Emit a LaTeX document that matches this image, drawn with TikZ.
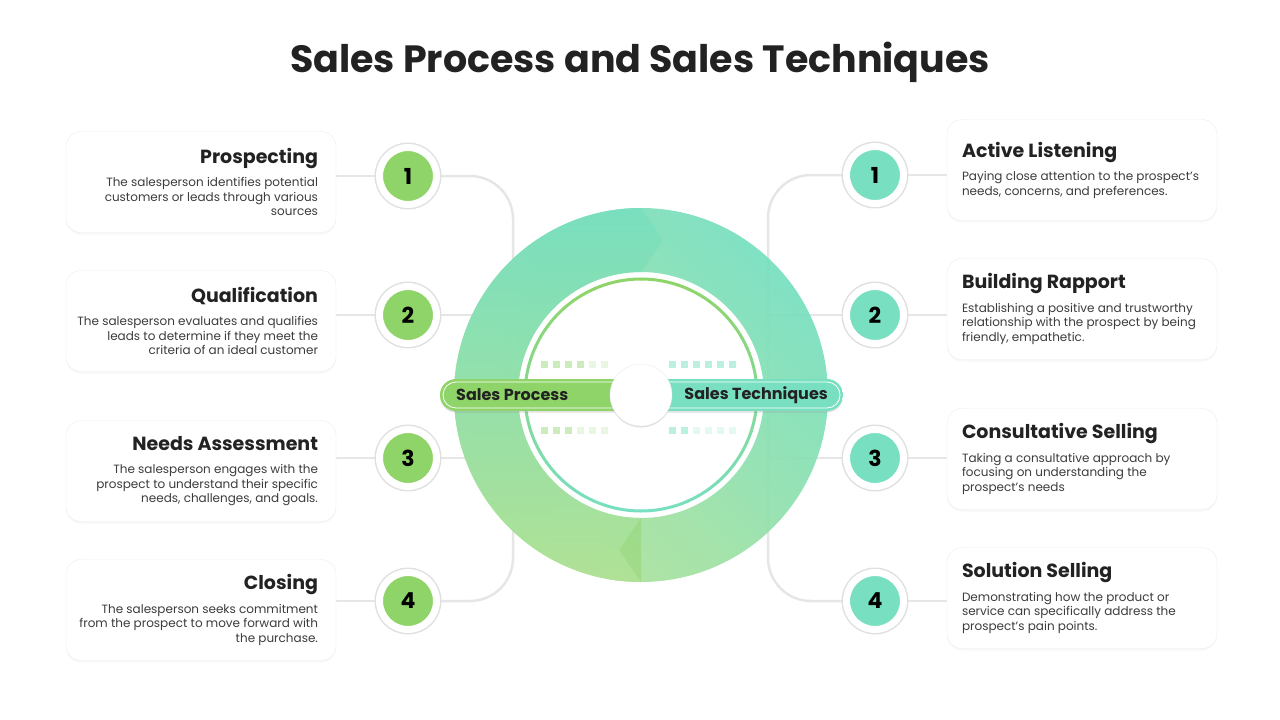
\documentclass[tikz,border=0pt]{standalone}
\usepackage{fontspec}
\setmainfont{Poppins}
\usetikzlibrary{shadows,backgrounds}

\definecolor{pgreen}{HTML}{8FD468}
\definecolor{pteal}{HTML}{78DFC0}
\definecolor{ink}{HTML}{222222}
\definecolor{bodytext}{HTML}{3C3C3C}
\definecolor{linegray}{HTML}{E6E6E6}

\newcommand{\cardhead}{\fontsize{19}{23}\selectfont\bfseries\color{ink}}
\newcommand{\cardbody}{\fontsize{12}{14.5}\selectfont}

\tikzset{
  card/.style={draw=black!7, fill=white, rounded corners=15pt,
    minimum width=270pt, minimum height=101pt,
    drop shadow={opacity=0.06, shadow xshift=0pt, shadow yshift=-2pt}},
  lefttext/.style={anchor=east, align=right, font=\cardbody, text=bodytext, inner sep=0pt},
  righttext/.style={anchor=west, align=left, font=\cardbody, text=bodytext, inner sep=0pt},
  num/.style={circle, minimum size=57pt, fill=#1, draw=white, line width=7pt,
    preaction={draw=black!12, line width=10pt},
    font=\fontsize{22}{22}\selectfont\bfseries, text=black},
  link/.style={draw=linegray, line width=2.5pt},
  tag/.style={font=\fontsize{16}{16}\selectfont\bfseries, text=ink, inner sep=0pt},
}

\begin{document}
\begin{tikzpicture}[x=1pt, y=-1pt]
\useasboundingbox (0,0) rectangle (1280,720);

\node[font=\fontsize{38}{44}\selectfont\bfseries, text=ink] (title) at (640,62)
  {Sales Process and Sales Techniques};

\coordinate (hubc) at (641,395);
\coordinate (lspine) at (513,395);
\coordinate (rspine) at (768,395);

% ring: right half, then left half with the two notches
\shade[even odd rule, opacity=0.94, top color=pteal, middle color=pgreen!72!white,
  bottom color=pgreen!68!white, shading angle=-45]
  (hubc) circle[radius=187] (hubc) circle[radius=123];
\shade[opacity=0.94, top color=pteal, bottom color=pgreen!70!white]
  (641,208) -- (663,240) -- (641,272)
  arc[start angle=-90, end angle=-270, radius=123] -- (619,550) -- (641,582)
  arc[start angle=90, end angle=270, radius=187] -- cycle;
\fill[pgreen, opacity=0.45] (641,518) -- (619,550) -- (641,582) -- cycle;

% thin inner ring, green on top, teal below
\foreach \a in {0,6,...,354}{
  \pgfmathsetmacro\p{50-50*sin(\a+3)}
  \draw[pgreen!\p!pteal, line width=3pt] ([shift={(\a:116)}]hubc)
    arc[start angle=\a, end angle=\a+6.5, radius=116];
}

% small squares
\foreach \x/\o in {0/.45,1/.45,2/.45,3/.45,4/.2,5/.2}
  \fill[pgreen, opacity=\o] (541+12*\x,361) rectangle ++(7,7);
\foreach \x/\o in {0/.45,1/.45,2/.45,3/.2,4/.2,5/.2}
  \fill[pgreen, opacity=\o] (541+12*\x,427) rectangle ++(7,7);
\foreach \x/\o in {0/.5,1/.5,2/.5,3/.5,4/.5,5/.5}
  \fill[pteal, opacity=\o] (669+12*\x,361) rectangle ++(7,7);
\foreach \x/\o in {0/.5,1/.5,2/.2,3/.2,4/.2,5/.2}
  \fill[pteal, opacity=\o] (669+12*\x,427) rectangle ++(7,7);

% centre bar
\path[rounded corners=16pt, fill=white,
  drop shadow={opacity=0.25, shadow xshift=0pt, shadow yshift=-1.5pt}]
  (440,379) rectangle (843,411);
\begin{scope}
  \clip[rounded corners=16pt] (440,379) rectangle (843,411);
  \fill[pgreen] (440,379) rectangle (641,411);
  \fill[pteal] (641,379) rectangle (843,411);
\end{scope}
\draw[white, line width=0.8pt, rounded corners=13pt] (443,382) rectangle (840,408);
\node[circle, fill=white, draw=black!8, minimum size=62pt,
  drop shadow={opacity=0.25, shadow xshift=0pt, shadow yshift=-1.5pt}] (hub) at (hubc) {};
\node[tag, anchor=west] (sproc) at (456,395) {Sales Process};
\node[tag, anchor=east] (stech) at (828,395) {Sales Techniques};

% left column
\foreach \k/\cy/\ny/\head/\body in {
  1/182/176/Prospecting/{The salesperson identifies potential\\customers or leads through various\\sources},
  2/321/315/Qualification/{The salesperson evaluates and qualifies\\leads to determine if they meet the\\criteria of an ideal customer},
  3/471/458/Needs Assessment/{The salesperson engages with the\\prospect to understand their specific\\needs, challenges, and goals.},
  4/610/601/Closing/{The salesperson seeks commitment\\from the prospect to move forward with\\the purchase.}}
{
  \node[card] (lc\k) at (201,\cy) {};
  \node[lefttext] (lt\k) at ([xshift=-18pt]lc\k.east) {{\cardhead \head}\\[9pt]\body};
  \node[num=pgreen] (ln\k) at (408,\ny) {\k};
}

% right column
\foreach \k/\cy/\ny/\head/\body in {
  1/170/175/Active Listening/{Paying close attention to the prospect's\\needs, concerns, and preferences.},
  2/309/315/Building Rapport/{Establishing a positive and trustworthy\\relationship with the prospect by being\\friendly, empathetic.},
  3/459/458/Consultative Selling/{Taking a consultative approach by\\focusing on understanding the\\prospect's needs},
  4/598/601/Solution Selling/{Demonstrating how the product or\\service can specifically address the\\prospect's pain points.}}
{
  \node[card] (rc\k) at (1082,\cy) {};
  \node[righttext] (rt\k) at ([xshift=15pt]rc\k.west) {{\cardhead \head}\\[9pt]\body};
  \node[num=pteal] (rn\k) at (875,\ny) {\k};
}

% connectors
\begin{scope}[on background layer]
  \foreach \k in {1,...,4}{
    \draw[link] (ln\k) -- (ln\k -| lc\k.east);
    \draw[link] (rn\k) -- (rn\k -| rc\k.west);
  }
  \foreach \k in {2,3}{
    \draw[link] (ln\k) -- (ln\k -| lspine);
    \draw[link] (rn\k) -- (rn\k -| rspine);
  }
  \draw[link, rounded corners=43pt] (ln1) -| (lspine) |- (ln4);
  \draw[link, rounded corners=43pt] (rn1) -| (rspine) |- (rn4);
\end{scope}
\end{tikzpicture}
\end{document}
